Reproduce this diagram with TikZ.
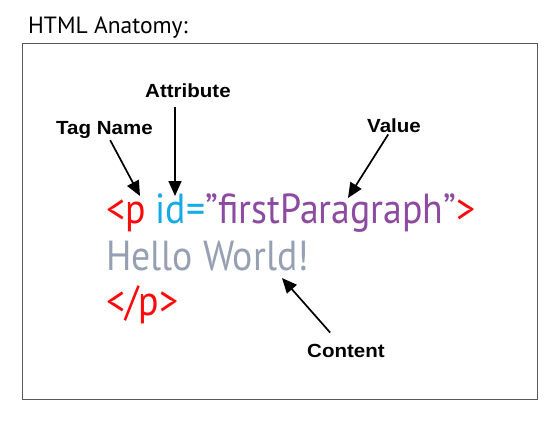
\documentclass[tikz,border=0pt]{standalone}
\usepackage{fontspec}
\setmainfont{PT Sans}
\newfontfamily\codefont{PT Sans}[FakeStretch=0.9]
\newfontfamily\calloutfont{Liberation Sans}[FakeStretch=1.08]
\usetikzlibrary{arrows.meta}

\definecolor{tagred}{RGB}{252,10,10}
\definecolor{attrblue}{RGB}{20,170,230}
\definecolor{valpurple}{RGB}{140,75,160}
\definecolor{textgray}{RGB}{150,160,178}

\begin{document}
\begin{tikzpicture}[x=1pt, y=-1pt,
  callout/.style={font=\calloutfont\bfseries\fontsize{19}{20}\selectfont, inner sep=2pt},
  codeline/.style={font=\codefont\fontsize{42}{44}\selectfont, anchor=base west, inner sep=0pt},
  pointer/.style={line width=1.7pt, -{Triangle[length=15pt, width=13pt]}}]
  \useasboundingbox (0,0) rectangle (560,424);
  \draw[gray!70!black, line width=1pt] (22,43) rectangle (537,399);
  \node[anchor=base west, inner sep=0pt, font=\fontsize{23.5}{25}\selectfont] (title) at (28,33) {HTML Anatomy:};

  % the three lines of markup
  \node[codeline] (opentag) at (106,223) {\color{tagred}<p \color{attrblue}id=\color{valpurple}”firstParagraph”\color{tagred}>};
  \node[codeline, text=textgray] (content) at (106,270) {Hello World!};
  \node[codeline, text=tagred] (closetag) at (106,315) {</p>};

  % labels
  \node[callout, anchor=base west] (tagname) at (54,134) {Tag Name};
  \node[callout, anchor=base west] (attribute) at (143,97) {Attribute};
  \node[callout, anchor=base west] (value) at (365,132) {Value};
  \node[callout, anchor=base west] (contentlbl) at (305,357) {Content};

  \coordinate (tagtip) at (140,196);
  \coordinate (attrtip) at (175,196);
  \coordinate (valtip) at (348,198);
  \coordinate (contip) at (282,278);

  \draw[pointer] (tagname) -- (tagtip);
  \draw[pointer, shorten <=8pt] (attribute.south -| attrtip) -- (attrtip);
  \draw[pointer] (value) -- (valtip);
  \draw[pointer, shorten <=12pt] (contentlbl) -- (contip);
\end{tikzpicture}
\end{document}
